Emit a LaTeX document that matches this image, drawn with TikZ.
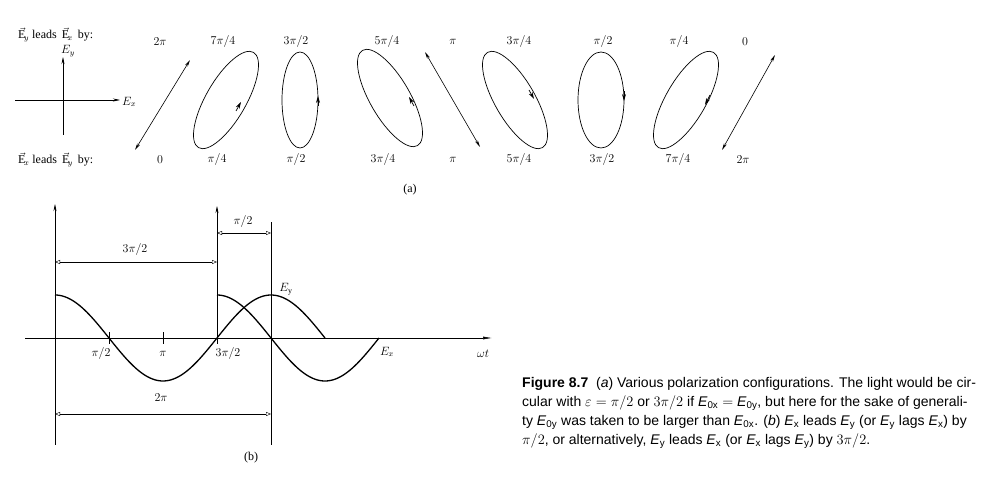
\documentclass[tikz,border=0pt]{standalone}
\usepackage{fontspec}
\setmainfont{Liberation Serif}
\newfontfamily\capfont{Liberation Sans}
\usetikzlibrary{arrows.meta}
\begin{document}
\begin{tikzpicture}[x=1pt,y=1pt,
  lab/.style={font=\fontsize{12}{14}\selectfont, inner sep=0pt},
  curve/.style={line width=1.3pt},
  thin/.style={line width=0.5pt},
  dimline/.style={line width=0.4pt,{Triangle[open,length=5pt,width=4pt]}-{Triangle[open,length=5pt,width=4pt]}},
  ax/.style={line width=0.6pt,-{Stealth[length=7pt,width=3pt]}},
  pol/.style={line width=0.7pt},
  dbl/.style={line width=0.6pt,{Stealth[length=7pt,width=3pt]}-{Stealth[length=7pt,width=3pt]}},
  tip/.style={line width=0.7pt,-{Stealth[length=7pt,width=4pt]}}]
\useasboundingbox (0,0) rectangle (999,482);
% ---------- (a) ----------
\node[lab,anchor=west] (t1) at (18,447) {$\vec{\mathrm{E}}_{\!y}$ leads\, $\vec{\mathrm{E}}_{\!x}$\, by:};
\node[lab,anchor=west] (t2) at (18,322) {$\vec{\mathrm{E}}_{\!x}$ leads\, $\vec{\mathrm{E}}_{\!y}$\, by:};
\coordinate (hx0) at (15,382); \coordinate (hx1) at (120,382);
\coordinate (vy0) at (63,347); \coordinate (vy1) at (63,425);
\draw[ax] (hx0) -- (hx1);
\draw[ax] (vy0) -- (vy1);
\node[lab,anchor=west] (ex) at (122,380) {$E_x$};
\node[lab] (ey) at (68,431) {$E_y$};
% top labels
\foreach \x/\t in {160/{2\pi},223/{7\pi/4},296/{3\pi/2},387/{5\pi/4},453/{\pi},519/{3\pi/4},603/{\pi/2},679/{\pi/4},745/{0}}
  \node[lab] at (\x,440) {$\t$};
\foreach \x/\t in {160/{0},217/{\pi/4},296/{\pi/2},383/{3\pi/4},453/{\pi},519/{5\pi/4},602/{3\pi/2},678/{7\pi/4},743/{2\pi}}
  \node[lab] at (\x,322) {$\t$};
% shapes
\coordinate (l1a) at (135,332); \coordinate (l1b) at (190,422);
\draw[dbl] (l1a) -- (l1b);
\draw[pol,rotate around={60:(226,382)}] (226,382) ellipse [x radius=55,y radius=20];
\draw[tip] (236,371) -- (241,380);
\draw[pol] (300,382) ellipse [x radius=18,y radius=48];
\draw[tip] (318,376) -- (318,386);
\draw[pol,rotate around={-60:(390,384)}] (390,384) ellipse [x radius=55,y radius=20];
\draw[tip] (414,376) -- (409,385);
\coordinate (l2a) at (425,430); \coordinate (l2b) at (480,335);
\draw[dbl] (l2a) -- (l2b);
\draw[pol,rotate around={-60:(515,382)}] (515,382) ellipse [x radius=55,y radius=20];
\draw[tip] (529,392) -- (534,383);
\draw[pol] (601,382) ellipse [x radius=23,y radius=48];
\draw[tip] (624,391) -- (624,381);
\draw[pol,rotate around={60:(686,382)}] (686,382) ellipse [x radius=55,y radius=20];
\draw[tip] (710,387) -- (705,377);
\coordinate (l3a) at (722,332); \coordinate (l3b) at (775,427);
\draw[dbl] (l3a) -- (l3b);
\node[lab] (a) at (410,292) {(a)};
% ---------- (b) ----------
\coordinate (xa0) at (25,144); \coordinate (xa1) at (492,144);
\draw[line width=0.5pt,-{Latex[length=9pt,width=3pt]}] (xa0) -- (xa1);
\coordinate (ya0) at (55,37); \coordinate (ya1) at (55,278);
\draw[ax] (ya0) -- (ya1);
\coordinate (yb0) at (217,144); \coordinate (yb1) at (217,276);
\draw[ax] (yb0) -- (yb1);
\coordinate (yc0) at (271,37); \coordinate (yc1) at (271,260);
\draw[thin] (yc0) -- (yc1);
\draw[curve] plot[domain=0:270,samples=120] ({55+\x},{144+43*cos(\x*5/3)});
\draw[curve] plot[domain=0:162,samples=90] ({217+\x},{144+43*cos(\x*5/3)});
\foreach \x in {109,163,217} \draw[thin] (\x,138) -- (\x,150);
\node[lab] at (101,128) {$\pi/2$};
\node[lab] at (163,128) {$\pi$};
\node[lab] at (228,128) {$3\pi/2$};
\node[lab] at (483,128) {$\omega t$};
\node[lab] at (387,130) {$E_x$};
\node[lab] at (286,193) {$E_\mathrm{y}$};
\draw[dimline] (217,249) -- (271,249);
\node[lab] at (243,260) {$\pi/2$};
\draw[dimline] (55,220) -- (217,220);
\node[lab] at (135,232) {$3\pi/2$};
\draw[dimline] (55,68) -- (271,68);
\node[lab] at (161,84) {$2\pi$};
\node[lab] (b) at (251,24) {(b)};
% caption
\node[anchor=north west,inner sep=0pt,align=left,font=\capfont\fontsize{14}{19}\selectfont] (cap) at (522,105)
{\textbf{Figure 8.7}\ \ (\textit{a}) Various polarization configurations. The light would be cir-\\
cular with $\varepsilon=\pi/2$ or $3\pi/2$ if \textit{E}\textsubscript{0x} $=$ \textit{E}\textsubscript{0y}, but here for the sake of generali-\\
ty \textit{E}\textsubscript{0y} was taken to be larger than \textit{E}\textsubscript{0x}. (\textit{b}) \textit{E}\textsubscript{x} leads \textit{E}\textsubscript{y} (or \textit{E}\textsubscript{y} lags \textit{E}\textsubscript{x}) by\\
$\pi/2$, or alternatively, \textit{E}\textsubscript{y} leads \textit{E}\textsubscript{x} (or \textit{E}\textsubscript{x} lags \textit{E}\textsubscript{y}) by $3\pi/2$.};
\end{tikzpicture}
\end{document}
